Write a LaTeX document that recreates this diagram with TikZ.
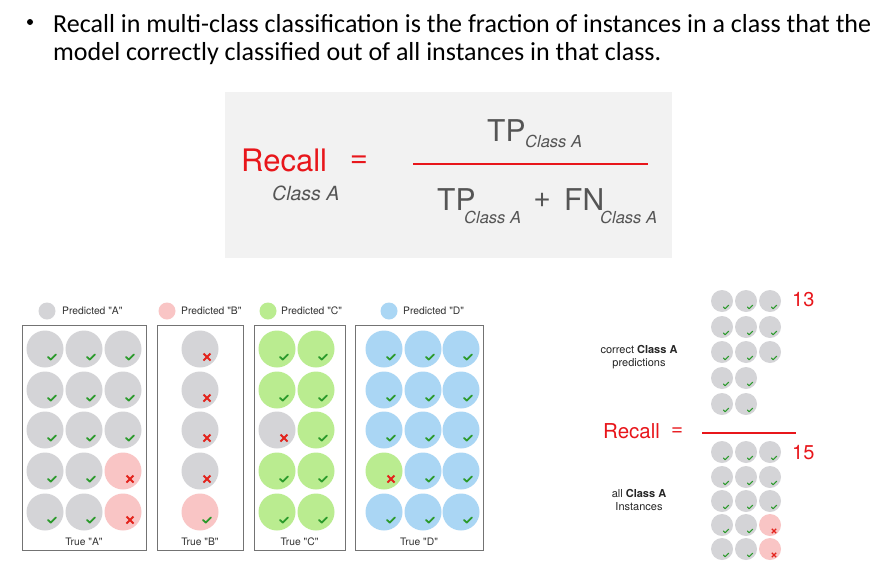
\documentclass[tikz,border=0pt]{standalone}
\usepackage{fontspec}
\setmainfont{Carlito}
\newfontfamily\hv{TeX Gyre Heros}
\usetikzlibrary{calc}
\definecolor{cgray}{HTML}{D4D4D7}
\definecolor{cpink}{HTML}{F9C5C5}
\definecolor{cgreen}{HTML}{BAEC90}
\definecolor{cblue}{HTML}{AAD6F4}
\definecolor{ckgreen}{HTML}{2B9A2B}
\definecolor{cxred}{HTML}{E3231C}
\definecolor{cred}{HTML}{E8161B}
\definecolor{ctxt}{HTML}{555555}
\definecolor{cpanel}{HTML}{F2F2F2}
\newcommand\mkbig[5]{\node[bigb,fill=#4] (#1) at (#2,#3) {}; \pic at ($(#1.center)+(7,8)$) {#5};}
\newcommand\mksmall[5]{\node[smb,fill=#4] (#1) at (#2,#3) {}; \pic at ($(#1.center)+(4,6)$) {#5};}
\begin{document}
\begin{tikzpicture}[x=1pt,y=-1pt,
 bigb/.style={circle,inner sep=0pt,minimum size=37pt,draw=none},
 smb/.style={circle,inner sep=0pt,minimum size=22pt,draw=none},
 legb/.style={circle,inner sep=0pt,minimum size=17pt,draw=none},
 frame/.style={draw=black!55,line width=0.9pt},
 lbl/.style={font=\hv\fontsize{10.3}{12}\selectfont,text=black!80,inner sep=0pt},
 rlbl/.style={font=\hv\fontsize{11}{13}\selectfont,text=black!85,inner sep=0pt,align=center},
 chk/.pic={\draw[ckgreen,line width=1.8pt,line cap=round,line join=round] (-4,0) -- (-1.3,2.6) -- (4,-2.6);},
 crs/.pic={\draw[cxred,line width=1.9pt] (-3.5,-3.5) -- (3.5,3.5) (-3.5,3.5) -- (3.5,-3.5);},
 schk/.pic={\draw[ckgreen,line width=1.1pt,line cap=round,line join=round] (-2.6,0) -- (-0.9,1.7) -- (2.6,-1.7);},
 scrs/.pic={\draw[cxred,line width=1.2pt] (-2.2,-2.2) -- (2.2,2.2) (-2.2,2.2) -- (2.2,-2.2);},
]
\useasboundingbox (0,0) rectangle (890,562);
\fill[white] (0,0) rectangle (890,562);
% top text
\node[circle,fill=black,inner sep=0pt,minimum size=6pt] (bul) at (30,22) {};
\node[anchor=base west,inner sep=0pt,font=\fontsize{26}{30}\selectfont] (t1) at (53,32) {Recall in multi-class classification is the fraction of instances in a class that the};
\node[anchor=base west,inner sep=0pt,font=\fontsize{26}{30}\selectfont] (t2) at (53,60) {model correctly classified out of all instances in that class.};
% formula panel
\fill[cpanel] (225,92) rectangle (672,258);
\node[anchor=base west,inner sep=0pt,text=cred,font=\hv\fontsize{31}{31}\selectfont] (rec) at (241,171) {Recall};
\node[inner sep=0pt,text=cred,font=\hv\fontsize{31}{31}\selectfont] (eq) at (359,162) {=};
\node[anchor=base west,inner sep=0pt,text=ctxt,font=\hv\itshape\fontsize{19.5}{20}\selectfont] (rsub) at (272,200) {Class A};
\coordinate (fl) at (413,164);
\coordinate (fr) at (648,164);
\draw[cred,line width=2.4pt] (fl) -- (fr);
\node[anchor=base west,inner sep=0pt,text=ctxt,font=\hv\fontsize{30}{30}\selectfont] (ntp) at (487,141) {TP};
\node[anchor=base west,inner sep=0pt,text=ctxt,font=\hv\itshape\fontsize{16.5}{17}\selectfont] (ntps) at (525,147) {Class A};
\node[anchor=base west,inner sep=0pt,text=ctxt,font=\hv\fontsize{30}{30}\selectfont] (dtp) at (437,210) {TP};
\node[anchor=base west,inner sep=0pt,text=ctxt,font=\hv\itshape\fontsize{16.5}{17}\selectfont] (dtps) at (464,223) {Class A};
\node[inner sep=0pt,text=ctxt,font=\hv\fontsize{30}{30}\selectfont] (plus) at (542,200) {+};
\node[anchor=base west,inner sep=0pt,text=ctxt,font=\hv\fontsize{30}{30}\selectfont] (dfn) at (564,210) {FN};
\node[anchor=base west,inner sep=0pt,text=ctxt,font=\hv\itshape\fontsize{16.5}{17}\selectfont] (dfns) at (600,223) {Class A};
% legend
\node[legb,fill=cgray] (lgA) at (47,311) {};
\node[lbl,anchor=west] (lgAt) at (62,311) {Predicted "A"};
\node[legb,fill=cpink] (lgB) at (167,311) {};
\node[lbl,anchor=west] (lgBt) at (181,311) {Predicted "B"};
\node[legb,fill=cgreen] (lgC) at (268,311) {};
\node[lbl,anchor=west] (lgCt) at (281,311) {Predicted "C"};
\node[legb,fill=cblue] (lgD) at (389,311) {};
\node[lbl,anchor=west] (lgDt) at (403,311) {Predicted "D"};
% frames
\draw[frame] (22,325) rectangle (146,550);
\draw[frame] (157,325) rectangle (243,550);
\draw[frame] (254,325) rectangle (345,550);
\draw[frame] (355,325) rectangle (483,550);
\node[lbl] (trA) at (84,542) {True "A"};
\node[lbl] (trB) at (200,542) {True "B"};
\node[lbl] (trC) at (299.5,542) {True "C"};
\node[lbl] (trD) at (419,542) {True "D"};
% box A
\mkbig{A11}{45}{349}{cgray}{chk} \mkbig{A12}{84}{349}{cgray}{chk} \mkbig{A13}{123}{349}{cgray}{chk}
\mkbig{A21}{45}{390}{cgray}{chk} \mkbig{A22}{84}{390}{cgray}{chk} \mkbig{A23}{123}{390}{cgray}{chk}
\mkbig{A31}{45}{430}{cgray}{chk} \mkbig{A32}{84}{430}{cgray}{chk} \mkbig{A33}{123}{430}{cgray}{chk}
\mkbig{A41}{45}{471}{cgray}{chk} \mkbig{A42}{84}{471}{cgray}{chk} \mkbig{A43}{123}{471}{cpink}{crs}
\mkbig{A51}{45}{512}{cgray}{chk} \mkbig{A52}{84}{512}{cgray}{chk} \mkbig{A53}{123}{512}{cpink}{crs}
% box B
\mkbig{B1}{200}{349}{cgray}{crs}
\mkbig{B2}{200}{390}{cgray}{crs}
\mkbig{B3}{200}{430}{cgray}{crs}
\mkbig{B4}{200}{471}{cgray}{crs}
\mkbig{B5}{200}{512}{cpink}{chk}
% box C
\mkbig{C11}{277}{349}{cgreen}{chk} \mkbig{C12}{316}{349}{cgreen}{chk}
\mkbig{C21}{277}{390}{cgreen}{chk} \mkbig{C22}{316}{390}{cgreen}{chk}
\mkbig{C31}{277}{430}{cgray}{crs} \mkbig{C32}{316}{430}{cgreen}{chk}
\mkbig{C41}{277}{471}{cgreen}{chk} \mkbig{C42}{316}{471}{cgreen}{chk}
\mkbig{C51}{277}{512}{cgreen}{chk} \mkbig{C52}{316}{512}{cgreen}{chk}
% box D
\mkbig{D11}{384}{349}{cblue}{chk} \mkbig{D12}{423}{349}{cblue}{chk} \mkbig{D13}{461}{349}{cblue}{chk}
\mkbig{D21}{384}{390}{cblue}{chk} \mkbig{D22}{423}{390}{cblue}{chk} \mkbig{D23}{461}{390}{cblue}{chk}
\mkbig{D31}{384}{430}{cblue}{chk} \mkbig{D32}{423}{430}{cblue}{chk} \mkbig{D33}{461}{430}{cblue}{chk}
\mkbig{D41}{384}{471}{cgreen}{crs} \mkbig{D42}{423}{471}{cblue}{chk} \mkbig{D43}{461}{471}{cblue}{chk}
\mkbig{D51}{384}{512}{cblue}{chk} \mkbig{D52}{423}{512}{cblue}{chk} \mkbig{D53}{461}{512}{cblue}{chk}
% right: numerator
\mksmall{N11}{722}{301}{cgray}{schk} \mksmall{N12}{746}{301}{cgray}{schk} \mksmall{N13}{770}{301}{cgray}{schk}
\mksmall{N21}{722}{327}{cgray}{schk} \mksmall{N22}{746}{327}{cgray}{schk} \mksmall{N23}{770}{327}{cgray}{schk}
\mksmall{N31}{722}{352}{cgray}{schk} \mksmall{N32}{746}{352}{cgray}{schk} \mksmall{N33}{770}{352}{cgray}{schk}
\mksmall{N41}{722}{378}{cgray}{schk} \mksmall{N42}{746}{378}{cgray}{schk}
\mksmall{N51}{722}{404}{cgray}{schk} \mksmall{N52}{746}{404}{cgray}{schk}
% right: denominator
\mksmall{M11}{722}{452}{cgray}{schk} \mksmall{M12}{746}{452}{cgray}{schk} \mksmall{M13}{770}{452}{cgray}{schk}
\mksmall{M21}{722}{477}{cgray}{schk} \mksmall{M22}{746}{477}{cgray}{schk} \mksmall{M23}{770}{477}{cgray}{schk}
\mksmall{M31}{722}{501}{cgray}{schk} \mksmall{M32}{746}{501}{cgray}{schk} \mksmall{M33}{770}{501}{cgray}{schk}
\mksmall{M41}{722}{525}{cgray}{schk} \mksmall{M42}{746}{525}{cgray}{schk} \mksmall{M43}{770}{525}{cpink}{scrs}
\mksmall{M51}{722}{549}{cgray}{schk} \mksmall{M52}{746}{549}{cgray}{schk} \mksmall{M53}{770}{549}{cpink}{scrs}
\node[anchor=west,inner sep=0pt,text=cred,font=\hv\fontsize{20}{20}\selectfont] (n13) at (792,300) {13};
\node[anchor=west,inner sep=0pt,text=cred,font=\hv\fontsize{20}{20}\selectfont] (n15) at (792,453) {15};
\node[rlbl] (corr) at (639,357) {correct \textbf{Class A}\\predictions};
\node[rlbl] (allc) at (639,500) {all \textbf{Class A}\\Instances};
\node[anchor=west,inner sep=0pt,text=cred,font=\hv\fontsize{20.5}{21}\selectfont] (rec2) at (603,431) {Recall};
\node[inner sep=0pt,text=cred,font=\hv\fontsize{20.5}{21}\selectfont] (eq2) at (677,432) {=};
\coordinate (gl) at (702,433);
\coordinate (gr) at (796,433);
\draw[cred,line width=1.8pt] (gl) -- (gr);
\end{tikzpicture}
\end{document}
